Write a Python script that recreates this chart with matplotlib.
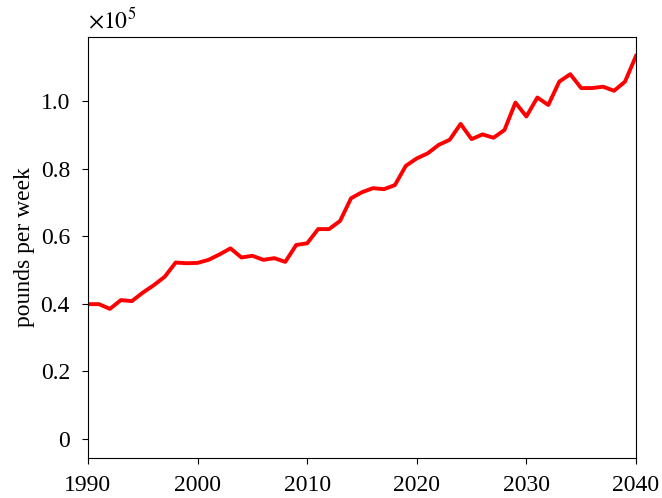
import matplotlib
matplotlib.use("Agg")
import matplotlib.pyplot as plt
from matplotlib.ticker import FuncFormatter

plt.rcParams["font.family"] = ["Liberation Serif", "DejaVu Serif"]
plt.rcParams["mathtext.fontset"] = "stix"

years = list(range(1990, 2041))
pounds_per_week = [
    39900, 39900, 38500, 41100, 40800, 43300, 45500, 48000, 52200, 52000,
    52100, 53000, 54600, 56400, 53700, 54200, 53000, 53500, 52400, 57400,
    57900, 62100, 62100, 64500, 71200, 73000, 74200, 73900, 75100, 80800,
    83000, 84500, 87000, 88500, 93200, 88700, 90100, 89100, 91400, 99500,
    95400, 101000, 98800, 105700, 107900, 103800, 103800, 104200, 103000, 105700,
    113300,
]
y_ticks = [0, 20000, 40000, 60000, 80000, 100000]

fig = plt.figure(figsize=(6.62, 4.98), dpi=100)
ax = fig.add_axes([0.1329, 0.0803, 0.8278, 0.8454])

ax.plot(years, pounds_per_week, color="red", linewidth=2.8)

ax.set_xlim(1990, 2040)
ax.set_ylim(-5600, 118900)
ax.set_xticks([1990, 2000, 2010, 2020, 2030, 2040])
ax.set_yticks(y_ticks)


def fmt(v, pos):
    s = v / 1e5
    return "0" if s == 0 else f"{s:.1f}"


ax.yaxis.set_major_formatter(FuncFormatter(fmt))
ax.tick_params(labelsize=17, direction="out", length=4, width=0.8)
ax.tick_params(axis="y", pad=9)
ax.tick_params(axis="x", pad=8)
ax.set_ylabel("pounds per week", fontsize=17, labelpad=4)
ax.text(0, 1.01, r"$\times10^{5}$", transform=ax.transAxes,
        ha="left", va="bottom", fontsize=17)

for sp in ax.spines.values():
    sp.set_linewidth(0.8)

fig.savefig("out.png", dpi=100)
